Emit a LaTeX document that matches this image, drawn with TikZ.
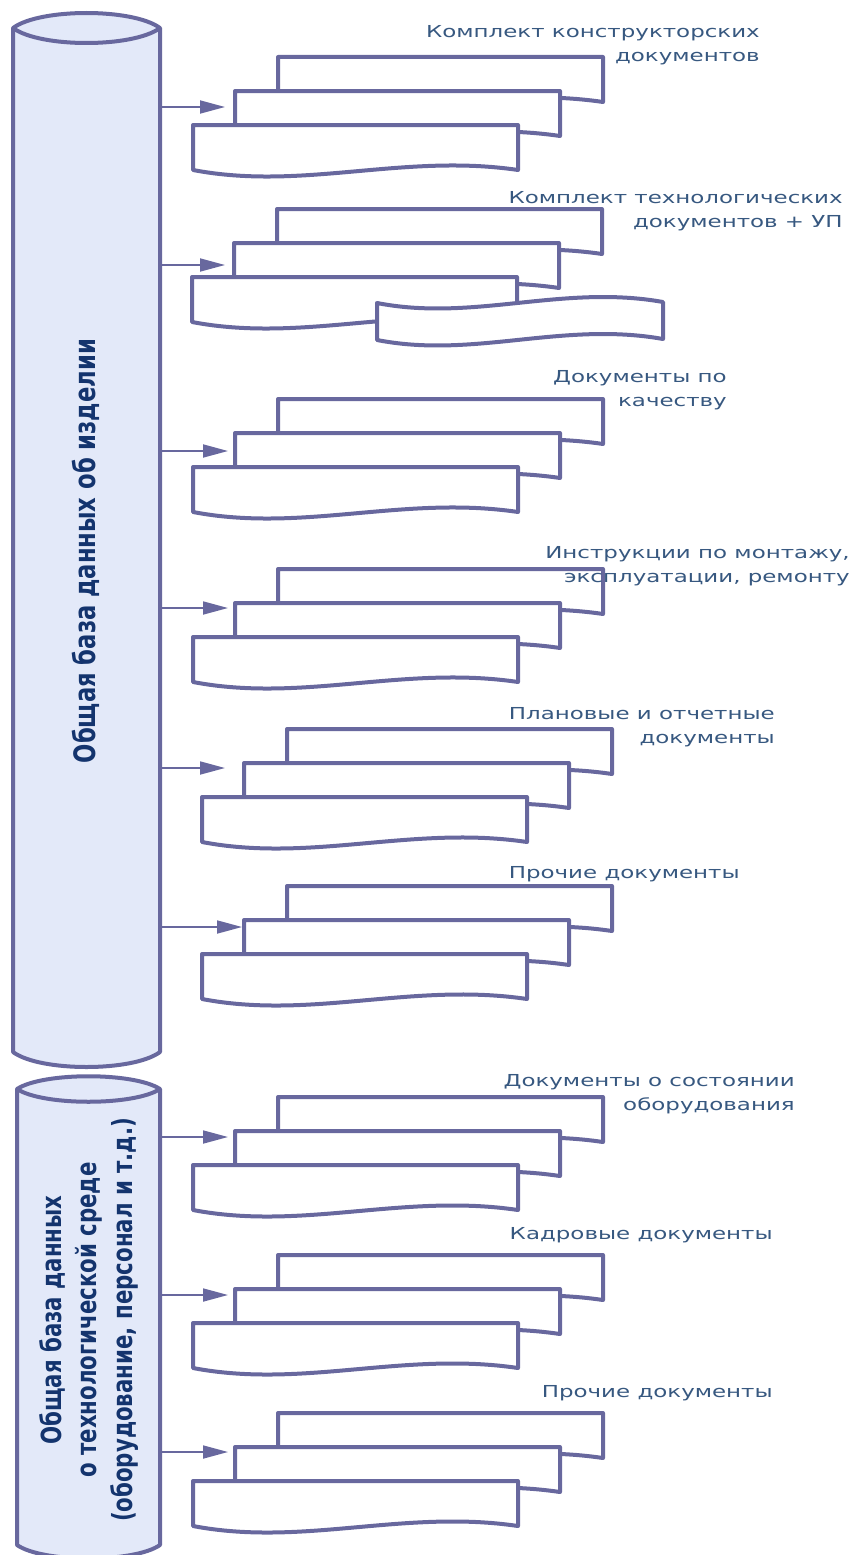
\documentclass[tikz,border=0pt]{standalone}
\usepackage{fontspec}
\setmainfont{DejaVu Sans}
\usetikzlibrary{arrows.meta}
\definecolor{strokec}{RGB}{104,104,158}
\definecolor{cylfill}{RGB}{227,233,249}
\definecolor{labelc}{RGB}{55,88,128}
\definecolor{cyltext}{RGB}{20,52,110}
\tikzset{
  sheet/.style={draw=strokec, fill=white, line width=4pt, line join=round},
  cyl/.style={draw=strokec, fill=cylfill, line width=4pt, line join=round},
  conn/.style={draw=strokec, line width=1.8pt, -{Triangle[length=25pt,width=13pt]}},
  lbl/.style={text=labelc, font=\fontsize{16.5}{24}\selectfont, align=right, anchor=base east, inner sep=0pt, xscale=1.39},
  cyllbl/.style={text=cyltext, font=\fontsize{21.3}{27}\selectfont\bfseries, align=center, inner sep=0pt, xscale=1.3, rotate=90}
}
\newcommand\docsheet[2]{%
  \begin{scope}[shift={(#1,#2)}]
    \path[sheet] (0,0) -- (325,0) -- (325,45) .. controls (210,28) and (110,66) .. (0,45) -- cycle;
  \end{scope}}
\newcommand\docstack[2]{%
  \docsheet{#1+85}{#2-68}%
  \docsheet{#1+42}{#2-34}%
  \docsheet{#1}{#2}}
\begin{document}
\begin{tikzpicture}[x=1pt,y=-1pt]
\useasboundingbox (0,0) rectangle (860,1555);
\begin{scope}
\clip (0,0) rectangle (860,1555);
% top cylinder
\path[cyl] (13,28) .. controls (40,8) and (133,8) .. (160,28) -- (160,1052)
  .. controls (133,1072) and (40,1072) .. (13,1052) -- cycle;
\draw[strokec, line width=4pt] (13,28) .. controls (40,48) and (133,48) .. (160,28);
% bottom cylinder
\path[cyl] (17,1089) .. controls (43,1072) and (134,1072) .. (160,1089) -- (160,1545)
  .. controls (134,1563) and (43,1563) .. (17,1545) -- cycle;
\draw[strokec, line width=4pt] (17,1089) .. controls (43,1106) and (134,1106) .. (160,1089);
\end{scope}
\path (86,551) node[cyllbl, font=\fontsize{22.7}{28}\selectfont\bfseries] (db1) {Общая база данных об изделии};
\path (89,1320) node[cyllbl] (db2) {Общая база данных\\о технологической среде\\(оборудование, персонал и т.д.)};
% stacks
\docstack{193}{125}
\docstack{192}{277}
\begin{scope}[shift={(377,303)}]
  \path[sheet] (0,0) .. controls (97,19) and (185,-19) .. (286,-1) -- (286,36)
    .. controls (185,18) and (97,56) .. (0,37) -- cycle;
\end{scope}
\docstack{193}{467}
\docstack{193}{637}
\docstack{202}{797}
\docstack{202}{954}
\docstack{193}{1165}
\docstack{193}{1323}
\docstack{193}{1481}
% connectors
\foreach \i/\y/\t in {1/107/225, 2/265/225, 3/451/228, 4/608/228, 5/768/225, 6/927/242, 7/1137/228, 8/1295/228, 9/1452/228} {
  \coordinate (s\i) at (160,\y);
  \coordinate (e\i) at (\t,\y);
  \draw[conn] (s\i) -- (e\i);
}
% labels (coordinate = baseline of the last line)
\path (760,62) node[lbl] (l1) {Комплект конструкторских\\документов};
\path (843,227) node[lbl] (l2) {Комплект технологических\\документов + УП};
\path (727,406) node[lbl] (l3) {Документы по\\качеству};
\path (850,582) node[lbl] (l4) {Инструкции по монтажу,\\эксплуатации, ремонту};
\path (775,743) node[lbl] (l5) {Плановые и отчетные\\документы};
\path (740,878) node[lbl] (l6) {Прочие документы};
\path (795,1110) node[lbl] (l7) {Документы о состоянии\\оборудования};
\path (773,1239) node[lbl] (l8) {Кадровые документы};
\path (773,1397) node[lbl] (l9) {Прочие документы};
\end{tikzpicture}
\end{document}
